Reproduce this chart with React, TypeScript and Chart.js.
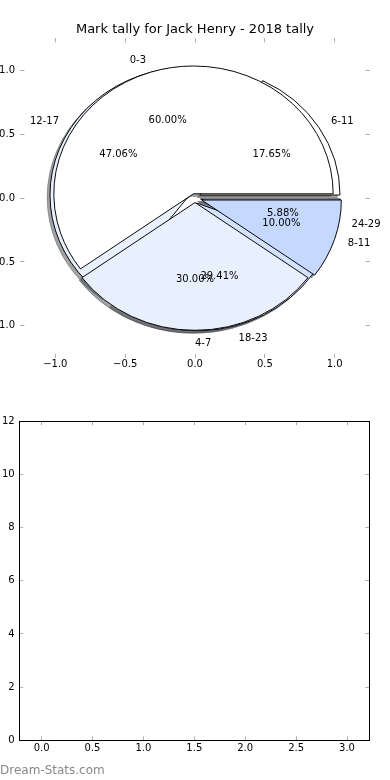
import React, { useEffect, useRef } from 'react';
import { Chart, registerables } from 'chart.js';

Chart.register(...registerables);

// ---------- data ----------
const TITLE = 'Mark tally for Jack Henry - 2018 tally';
// pie drawn first (underneath)
const UNDER_LABELS = ['6-11', '12-17', '18-23', '24-29'];
const UNDER_VALUES = [3, 8, 5, 1];
// pie drawn on top
const TOP_LABELS = ['0-3', '4-7', '8-11'];
const TOP_VALUES = [6, 3, 1];
const PIE_TICKS = [-1.0, -0.5, 0.0, 0.5, 1.0];
const LOWER_X_TICKS = [0, 0.5, 1.0, 1.5, 2.0, 2.5, 3.0];
const LOWER_Y_TICKS = [0, 2, 4, 6, 8, 10, 12];
const WATERMARK = 'Dream-Stats.com';

// ---------- styles ----------
const UNDER_COLORS = ['#ffffff', '#e9f0fd', '#d5e2fd', '#c5d8fd'];
const TOP_COLORS = ['#ffffff', '#e9f0fd', '#c5d8fd'];
const UNDER_EXPLODE = [0.045, 0.045, 0.04, 0.04];
const TOP_EXPLODE = [0.035, 0.035, 0.05];
const SHADOW_SHIFT = 0.02;
const FONT = '"DejaVu Sans", sans-serif';
const TICK_COLOR = '#b0b0b0';

const EXPLODES = [UNDER_EXPLODE, TOP_EXPLODE];
const COLORSETS = [UNDER_COLORS, TOP_COLORS];
const LABELSETS = [UNDER_LABELS, TOP_LABELS];

Chart.defaults.font.family = FONT;
Chart.defaults.color = '#000';

const fmt1 = (v: any) => Number(v).toFixed(1).replace('-', '\u2212');

function shadowColor(hex: string) {
  const n = parseInt(hex.slice(1), 16);
  const r = Math.round(((n >> 16) & 255) * 0.3);
  const g = Math.round(((n >> 8) & 255) * 0.3);
  const b = Math.round((n & 255) * 0.3);
  return `rgba(${r},${g},${b},0.5)`;
}

function mkAxis(position: string, min: number, max: number, ticks: number[], size: number, opts: any) {
  const horizontal = position === 'top' || position === 'bottom';
  return {
    type: 'linear',
    position,
    min,
    max,
    afterBuildTicks: (s: any) => {
      s.ticks = ticks.map((value) => ({ value }));
    },
    afterFit: (s: any) => {
      if (horizontal) s.height = size;
      else s.width = size;
    },
    ticks: {
      display: opts.labels,
      callback: opts.fmt,
      padding: opts.padding ?? 4,
      font: { size: 10, family: FONT },
      color: '#000',
      autoSkip: false,
      maxRotation: 0,
      minRotation: 0,
    },
    grid: {
      display: true,
      drawOnChartArea: false,
      drawTicks: true,
      tickLength: -4,
      color: TICK_COLOR,
      lineWidth: 1,
    },
    border: opts.border
      ? { display: true, color: '#000', width: 1 }
      : { display: false },
  };
}

const pieOverlay = {
  id: 'pieOverlay',
  afterDatasetsUpdate(chart: any) {
    const xs = chart.scales.x, ys = chart.scales.y;
    const cx = xs.getPixelForValue(0), cy = ys.getPixelForValue(0);
    const R = xs.getPixelForValue(1) - cx;
    chart.data.datasets.forEach((_: any, i: number) => {
      chart.getDatasetMeta(i).data.forEach((arc: any) => {
        arc.x = cx;
        arc.y = cy;
        arc.innerRadius = 0;
        arc.outerRadius = R;
      });
    });
  },
  beforeDatasetsDraw(chart: any) {
    const ctx = chart.ctx;
    const xs = chart.scales.x, ys = chart.scales.y;
    const cx = xs.getPixelForValue(0), cy = ys.getPixelForValue(0);
    const R = xs.getPixelForValue(1) - cx;
    const ky = (cy - ys.getPixelForValue(1)) / R;
    const metas = chart.data.datasets.map((_: any, i: number) => chart.getDatasetMeta(i));

    const pass = (shadow: boolean) => {
      metas.forEach((meta: any, i: number) => {
        meta.data.forEach((arc: any, j: number) => {
          const mid = (arc.startAngle + arc.endAngle) / 2;
          const e = EXPLODES[i][j] * R;
          let dx = e * Math.cos(mid);
          let dy = e * Math.sin(mid);
          let target = arc;
          if (shadow) {
            dx -= SHADOW_SHIFT * R;
            dy -= SHADOW_SHIFT * R;
            const sc = shadowColor(COLORSETS[i][j]);
            target = Object.create(arc);
            target.options = { ...arc.options, backgroundColor: sc, borderColor: sc };
          }
          ctx.save();
          ctx.translate(cx, cy);
          ctx.scale(1, -ky);
          ctx.translate(-cx, -cy);
          ctx.translate(dx, dy);
          target.draw(ctx);
          ctx.restore();
        });
      });
    };
    pass(true);
    pass(false);

    ctx.save();
    ctx.fillStyle = '#000';
    ctx.font = `10px ${FONT}`;
    ctx.textBaseline = 'middle';
    metas.forEach((meta: any, i: number) => {
      const vals = chart.data.datasets[i].data as number[];
      const total = vals.reduce((a, b) => a + b, 0);
      meta.data.forEach((arc: any, j: number) => {
        const mid = (arc.startAngle + arc.endAngle) / 2;
        const c = Math.cos(mid), s = Math.sin(mid);
        const e = EXPLODES[i][j];
        const lxd = (e + 1.1) * c;
        ctx.textAlign = lxd >= -1e-9 ? 'left' : 'right';
        ctx.fillText(LABELSETS[i][j], xs.getPixelForValue(lxd), ys.getPixelForValue((e + 1.1) * s));
        ctx.textAlign = 'center';
        ctx.fillText(
          ((vals[j] / total) * 100).toFixed(2) + '%',
          xs.getPixelForValue((e + 0.6) * c),
          ys.getPixelForValue((e + 0.6) * s)
        );
      });
    });
    ctx.restore();
    return false;
  },
};

export default function App() {
  const topRef = useRef<HTMLCanvasElement>(null);
  const botRef = useRef<HTMLCanvasElement>(null);

  useEffect(() => {
    document.body.style.margin = '0';
    const topChart = new Chart(topRef.current as HTMLCanvasElement, {
      type: 'pie',
      data: {
        labels: UNDER_LABELS,
        datasets: [
          {
            data: UNDER_VALUES,
            backgroundColor: UNDER_COLORS,
            borderColor: '#000',
            borderWidth: 1,
            borderJoinStyle: 'miter',
            offset: 0,
            hoverOffset: 0,
          },
          {
            data: TOP_VALUES,
            backgroundColor: TOP_COLORS,
            borderColor: '#000',
            borderWidth: 1,
            borderJoinStyle: 'miter',
            offset: 0,
            hoverOffset: 0,
          },
        ],
      } as any,
      options: {
        responsive: false,
        animation: false,
        devicePixelRatio: 1,
        events: [],
        rotation: 90,
        layout: { padding: 0 },
        plugins: {
          legend: { display: false },
          tooltip: { enabled: false },
          title: {
            display: true,
            text: TITLE,
            color: '#000',
            font: { size: 13, weight: 'normal', family: FONT },
            padding: { top: 21.5, bottom: 0 },
          },
        },
        scales: {
          x: mkAxis('bottom', -1.25, 1.25, PIE_TICKS, 42.2, { labels: true, fmt: fmt1, padding: 4.5 }),
          x2: mkAxis('top', -1.25, 1.25, PIE_TICKS, 1.2, { labels: false }),
          y: mkAxis('left', -1.25, 1.25, PIE_TICKS, 20.4, { labels: true, fmt: fmt1, padding: 9.4 }),
          y2: mkAxis('right', -1.25, 1.25, PIE_TICKS, 20.4, { labels: false }),
        },
      } as any,
      plugins: [pieOverlay as any],
    });

    const botChart = new Chart(botRef.current as HTMLCanvasElement, {
      type: 'scatter',
      data: { datasets: [] },
      options: {
        responsive: false,
        animation: false,
        devicePixelRatio: 1,
        events: [],
        layout: { padding: 0 },
        plugins: { legend: { display: false }, tooltip: { enabled: false } },
        scales: {
          x: mkAxis('bottom', -0.22, 3.22, LOWER_X_TICKS, 39.7, { labels: true, fmt: fmt1, padding: 6.5, border: true }),
          x2: mkAxis('top', -0.22, 3.22, LOWER_X_TICKS, 21.2, { labels: false, border: true }),
          y: mkAxis('left', 0, 12, LOWER_Y_TICKS, 19.2, { labels: true, fmt: (v: any) => String(v), padding: 8.6, border: true }),
          y2: mkAxis('right', 0, 12, LOWER_Y_TICKS, 20.6, { labels: false, border: true }),
        },
      } as any,
    });

    return () => {
      topChart.destroy();
      botChart.destroy();
    };
  }, []);

  return (
    <div style={{ position: 'relative', width: 390, height: 780, overflow: 'hidden', background: '#fff' }}>
      <canvas
        ref={topRef}
        width={390}
        height={400}
        style={{ position: 'absolute', left: 0, top: 0, width: 390, height: 400, display: 'block' }}
      />
      <canvas
        ref={botRef}
        width={390}
        height={380}
        style={{ position: 'absolute', left: 0, top: 400, width: 390, height: 380, display: 'block' }}
      />
      <div
        style={{
          position: 'absolute',
          left: 0,
          top: 762,
          fontFamily: FONT,
          fontSize: 12,
          lineHeight: '16px',
          color: '#888',
          whiteSpace: 'nowrap',
        }}
      >
        {WATERMARK}
      </div>
    </div>
  );
}
